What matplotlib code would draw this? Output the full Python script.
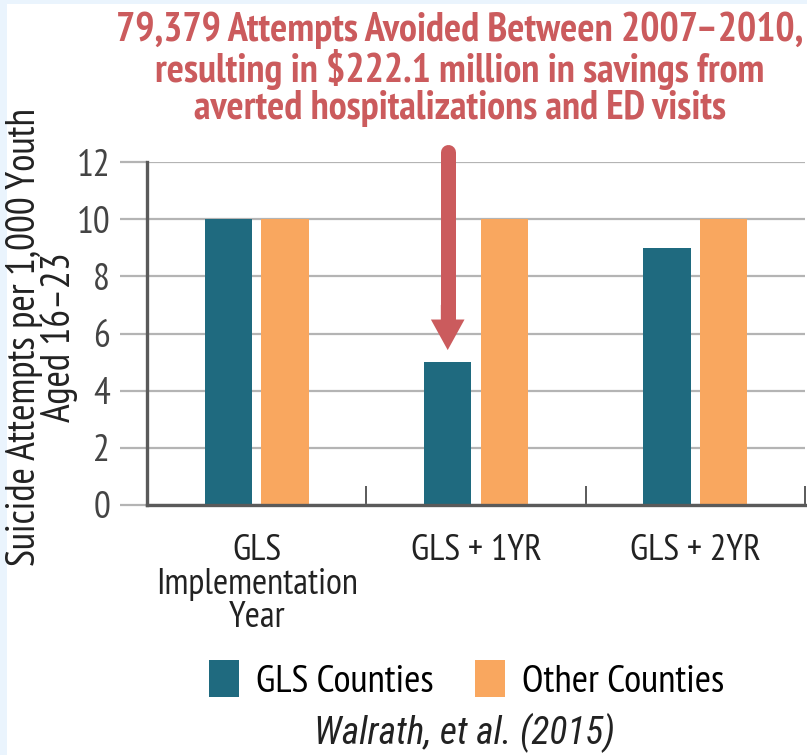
import numpy as np
import matplotlib; matplotlib.use('Agg')
import matplotlib.pyplot as plt
from matplotlib.patches import Rectangle

categories = ['GLS\nImplementation\nYear', 'GLS + 1YR', 'GLS + 2YR']
series = ['GLS Counties', 'Other Counties']
gls = [10, 5, 9]
other = [10, 10, 10]
yticks = [0, 2, 4, 6, 8, 10, 12]
title = ('79,379 Attempts Avoided Between 2007\u20132010,\n'
         'resulting in $222.1 million in savings from\n'
         'averted hospitalizations and ED visits')
ylabel = 'Suicide Attempts per 1,000 Youth\nAged 16\u201323'
source = 'Walrath, et al. (2015)'

TEAL = '#1f6a7f'
ORANGE = '#f9a75f'
RED = '#cb5b5d'
DARK = '#5a5a5a'
GRID = '#b4b4b4'
plt.rcParams['font.family'] = ['PT Sans Narrow', 'DejaVu Sans']

W, H = 807, 755
fig = plt.figure(figsize=(W/100, H/100), dpi=100, facecolor='#eaf4fd')
fig.patches.append(Rectangle((7/W, 0), 1, 1 - 4/H, transform=fig.transFigure,
                             facecolor='white', edgecolor='none', zorder=-5))

ax = fig.add_axes([147/W, 1 - 505/H, (805-147)/W, (505-162)/H])
ax.set_facecolor('white')
x = np.arange(len(categories))
bw, off = 0.215, 0.129
ax.bar(x - off, gls, bw, color=TEAL, label=series[0], zorder=3)
ax.bar(x + off, other, bw, color=ORANGE, label=series[1], zorder=3)

ax.set_xlim(-0.5, 2.5)
ax.set_ylim(0, 12)
ax.set_yticks(yticks)
ax.yaxis.grid(True, color=GRID, lw=1.6, zorder=0)
ax.tick_params(axis='y', length=19.5, width=1.6, color=GRID, pad=7,
               labelsize=27, labelcolor='#444444')
ax.set_xticks(x)
ax.set_xticklabels(categories, linespacing=1.02)
ax.tick_params(axis='x', length=0, pad=21, labelsize=26.5, labelcolor='#222222')
ax.set_xticks([0.5, 1.5, 2.5], minor=True)
ax.tick_params(axis='x', which='minor', direction='in', length=14, width=1.4, color=DARK)
for s in ['top', 'right']:
    ax.spines[s].set_visible(False)
for s in ['left', 'bottom']:
    ax.spines[s].set_color(DARK)
    ax.spines[s].set_linewidth(2.4)
    ax.spines[s].set_zorder(4)

fig.text(42/W, 1 - 337/H, ylabel, rotation=90, ha='center', va='center',
         fontsize=28.5, color='#222222', linespacing=0.92)

fig.text(460/W, 1 - 69/H, title, ha='center', va='center', fontsize=29,
         fontweight='bold', color=RED, linespacing=1.0)

# arrow pointing at GLS + 1YR bar: round-capped shaft plus head
xa = 1 - off
ax.plot([xa, xa], [12.34, 6.5], color=RED, lw=10.8, solid_capstyle='round',
        clip_on=False, zorder=5)
ax.annotate('', xy=(xa, 5.42), xytext=(xa, 7.0),
            arrowprops=dict(arrowstyle='simple,head_length=1.0,head_width=1.1,tail_width=0.45',
                            color=RED, lw=0, mutation_scale=22, shrinkA=0, shrinkB=0),
            annotation_clip=False, zorder=5)

fig.legend(loc='center', bbox_to_anchor=(467/W, 1 - 680/H), ncol=2, frameon=False,
           fontsize=28.3, handlelength=0.75, handleheight=1.05, handletextpad=0.45,
           columnspacing=1.05)
fig.text(464/W, 1 - 733/H, source, ha='center', va='center', fontsize=27,
         style='italic', family=['Roboto Condensed', 'DejaVu Sans'], color='#222222')

fig.savefig('out.png', dpi=100, facecolor=fig.get_facecolor())
